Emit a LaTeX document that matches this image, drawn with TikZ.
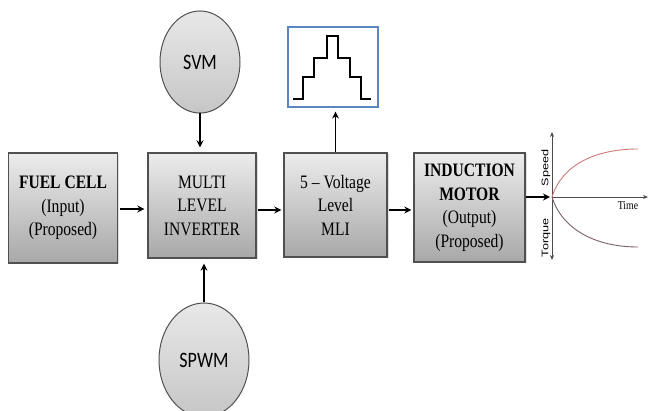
\documentclass[tikz,border=0pt]{standalone}
\usepackage{graphicx}
\usepackage{fontspec}
\setmainfont{Liberation Serif}
\newfontfamily\calib{Carlito}
\newfontfamily\arialf{Liberation Sans}
\usetikzlibrary{shapes.geometric,arrows.meta,shadows}
\definecolor{boxborder}{RGB}{80,80,80}
\definecolor{boxtop}{RGB}{236,236,236}
\definecolor{boxbot}{RGB}{168,168,168}
\definecolor{elltop}{RGB}{232,232,232}
\definecolor{ellbot}{RGB}{198,198,198}
\definecolor{waveblue}{RGB}{90,135,195}
\definecolor{speedred}{RGB}{205,120,120}
\definecolor{torquegray}{RGB}{120,95,105}
\newcommand{\sq}[1]{\scalebox{0.82}[1]{#1}}
\tikzset{
  blockbox/.style={draw=boxborder, line width=1.3pt, top color=boxtop, bottom color=boxbot,
    drop shadow={opacity=0.25, shadow xshift=1.5pt, shadow yshift=-1.5pt},
    align=center, inner sep=0pt, font=\fontsize{19}{23.5}\selectfont},
  modell/.style={ellipse, draw=boxborder, line width=1pt, top color=elltop, bottom color=ellbot,
    inner sep=0pt, font=\calib\fontsize{22}{24}\selectfont},
  arr/.style={-{Stealth[length=7pt,width=7pt]}, line width=1.8pt, black},
  axisline/.style={line width=0.7pt, draw=black!70},
}
\begin{document}
\begin{tikzpicture}[x=1pt,y=-1pt]
\useasboundingbox (0,0) rectangle (649,411);
\clip (0,0) rectangle (649,411);
% blocks
\node[blockbox, minimum width=109pt, minimum height=110pt] (fuel) at (63,208)
  {\fontsize{19}{21.5}\selectfont\sq{\textbf{FUEL CELL}}\\\sq{(Input)}\\\sq{(Proposed)}};
\node[blockbox, minimum width=108pt, minimum height=105pt] (mli) at (202,205.5)
  {\sq{MULTI}\\\sq{LEVEL}\\\sq{INVERTER}};
\node[blockbox, minimum width=103pt, minimum height=104pt] (vl) at (335.5,205)
  {\fontsize{19}{25}\selectfont\sq{5 -- Voltage}\\\sq{Level}\\\sq{MLI}};
\node[blockbox, minimum width=111pt, minimum height=109pt] (im) at (469.5,207.5)
  {\fontsize{19}{25}\selectfont\sq{\textbf{INDUCTION}}\\\sq{\textbf{MOTOR}}\\\sq{(Output)}\\\sq{(Proposed)}};
% waveform box
\node[draw=waveblue, line width=1.2pt, fill=white, minimum width=90pt, minimum height=80pt, inner sep=0pt] (wave) at (333,67) {};
\draw[line width=2.4pt, line join=miter] (293,99) -- (303,99) -- (303,77) -- (314,77) -- (314,58) -- (327,58) -- (327,36)
  -- (338,36) -- (338,58) -- (350,58) -- (350,77) -- (361,77) -- (361,99) -- (371,99);
% ellipses
\node[modell, minimum width=80pt, minimum height=102pt] (svm) at (200,62) {\sq{SVM}};
\node[modell, minimum width=90pt, minimum height=114pt] (spwm) at (204,360) {\sq{SPWM}};
% arrows
\coordinate (fuelarr) at (117,209);
\draw[arr, shorten <=3pt, shorten >=3pt] (fuelarr) -- (fuelarr -| mli.west);
\coordinate (mliarr) at (256,210);
\draw[arr, shorten <=2pt, shorten >=2pt] (mliarr) -- (mliarr -| vl.west);
\coordinate (vlarr) at (387,210);
\draw[arr, shorten <=2pt, shorten >=2pt] (vlarr) -- (vlarr -| im.west);
\draw[arr, shorten >=5pt] (svm.south) -- (svm.south |- mli.north);
\draw[arr, shorten >=5pt] (spwm.north) -- (spwm.north |- mli.south);
\draw[arr, shorten >=4pt] (vl.north) -- (vl.north |- wave.south);
% graph
\coordinate (orig) at (552,197);
\coordinate (ytop) at (552,132);
\coordinate (ybot) at (552,260);
\coordinate (xend) at (648,197);
\coordinate (imarr) at (525,197);
\draw[arr, shorten <=1pt, shorten >=2pt] (imarr) -- (orig);
\draw[axisline, {Stealth[length=5pt,width=4pt]}-{Stealth[length=5pt,width=4pt]}] (ytop) -- (ybot);
\draw[axisline, -{Stealth[length=5pt,width=4pt]}] (orig) -- (xend);
\draw[speedred, line width=0.9pt] (orig) .. controls (562,165) and (595,149) .. (638,149);
\draw[torquegray, line width=0.9pt] (orig) .. controls (562,229) and (595,247) .. (638,247);
\node[rotate=90, font=\arialf\fontsize{11}{12}\selectfont, inner sep=0pt] (speedlbl) at (546,168) {\scalebox{1.15}[0.87]{Speed}};
\node[rotate=90, font=\arialf\fontsize{11}{12}\selectfont, inner sep=0pt] (torquelbl) at (546,238) {\scalebox{1.15}[0.87]{Torque}};
\node[font=\fontsize{12}{12}\selectfont, inner sep=0pt] (timelbl) at (628,206) {\sq{Time}};
\end{tikzpicture}
\end{document}
